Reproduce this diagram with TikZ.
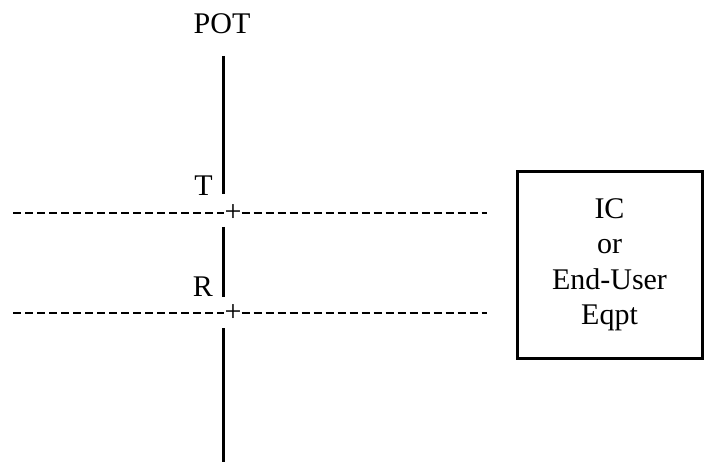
\documentclass[tikz,border=0pt]{standalone}
\usepackage{fontspec}
\setmainfont{Liberation Serif}
\tikzset{lbl/.style={font=\fontsize{30}{35.5}\selectfont,inner sep=0pt}}

\begin{document}
\begin{tikzpicture}[x=1pt,y=-1pt,
        wire/.style={line width=3pt},
        tap/.style={line width=2pt,dash pattern=on 8pt off 4pt},
        cross/.style={font=\fontsize{30}{30}\selectfont,inner sep=0pt}]
    \useasboundingbox (0,0) rectangle (704,462);
    \node[lbl,anchor=base] (pot) at (222,34) {POT};
    \node[lbl,anchor=base east] (t) at (213,196) {T};
    \node[lbl,anchor=base east] (r) at (213,297) {R};
    \coordinate (w1) at (223,56);
    \coordinate (w2) at (223,194);
    \coordinate (w3) at (223,227);
    \coordinate (w4) at (223,297);
    \coordinate (w5) at (223,328);
    \coordinate (w6) at (223,462);
    \draw[wire] (w1) -- (w2);
    \draw[wire] (w3) -- (w4);
    \draw[wire] (w5) -- (w6);
    % test points
    \node[cross] (plusT) at (233,213) {+};
    \node[cross] (plusR) at (233,313) {+};
    \coordinate (tl) at (13,213);
    \coordinate (tr) at (487,213);
    \coordinate (rl) at (13,313);
    \coordinate (rr) at (487,313);
    \draw[tap] (tl) -- (plusT);
    \draw[tap] (plusT) -- (tr);
    \draw[tap] (rl) -- (plusR);
    \draw[tap] (plusR) -- (rr);
    \node[lbl,draw,line width=3pt,minimum width=185pt,minimum height=186pt,align=center] (ic) at (609.5,265) {IC\\or\\End-User\\Eqpt};
\end{tikzpicture}
\end{document}
